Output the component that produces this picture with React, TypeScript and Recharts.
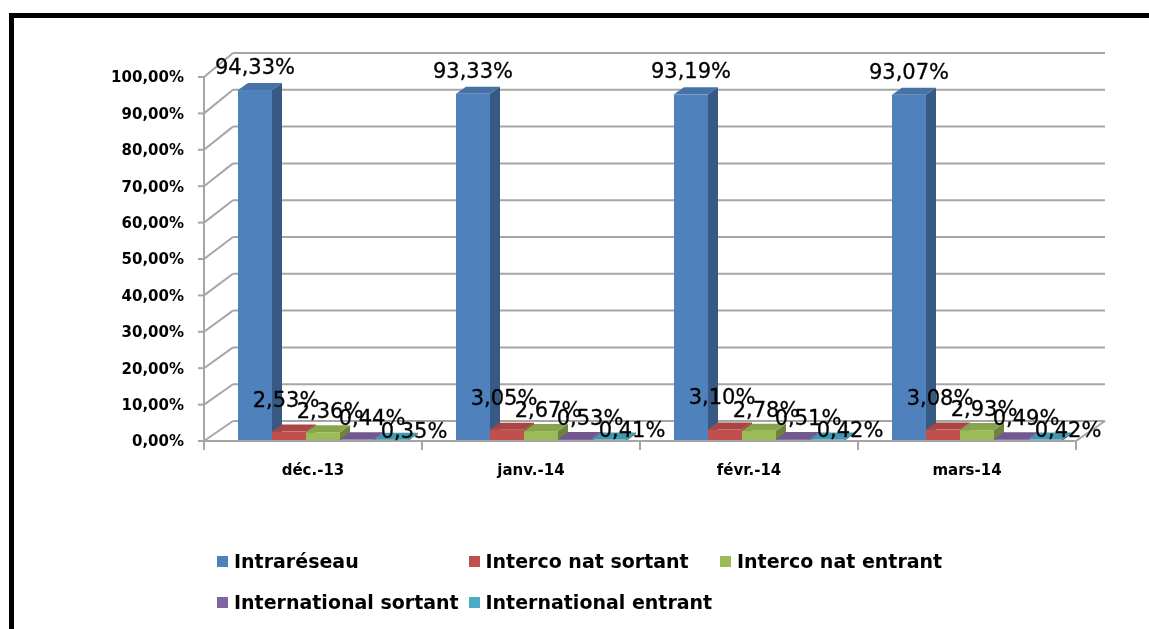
import { BarChart, Bar, XAxis, YAxis, ReferenceLine, LabelList, Legend } from "recharts";

const months = ["déc.-13", "janv.-14", "févr.-14", "mars-14"];
const intrareseau = [94.33, 93.33, 93.19, 93.07];
const intercoNatSortant = [2.53, 3.05, 3.1, 3.08];
const intercoNatEntrant = [2.36, 2.67, 2.78, 2.93];
const internationalSortant = [0.44, 0.53, 0.51, 0.49];
const internationalEntrant = [0.35, 0.41, 0.42, 0.42];
const yTicks = [0, 10, 20, 30, 40, 50, 60, 70, 80, 90, 100];

const data = months.map((m, i) => ({
  month: m,
  intra: intrareseau[i],
  icoSort: intercoNatSortant[i],
  icoEnt: intercoNatEntrant[i],
  intSort: internationalSortant[i],
  intEnt: internationalEntrant[i],
}));

// 3d look: bars sit a bit deeper than the front plane, back wall is shifted up-right
const SHIFT = 10;
const BAR_DX = 10;
const BAR_DY = 7;
const K = 1.022;
const WALL_DX = 29;
const GRID = "#A6A6A6";
const FONT = "DejaVu Sans";

const series = [
  { key: "intra", name: "Intraréseau", color: "#4F81BD", lx: 0, ly: -16 },
  { key: "icoSort", name: "Interco nat sortant", color: "#C0504D", lx: -3, ly: -25 },
  { key: "icoEnt", name: "Interco nat entrant", color: "#9BBB59", lx: 7, ly: -14 },
  { key: "intSort", name: "International sortant", color: "#8064A2", lx: 15, ly: -14 },
  { key: "intEnt", name: "International entrant", color: "#4BACC6", lx: 23, ly: -2 },
];

const shade = (hex: string, f: number) => {
  const n = parseInt(hex.slice(1), 16);
  const c = [(n >> 16) & 255, (n >> 8) & 255, n & 255].map((v) => Math.round(v * f));
  return `rgb(${c[0]},${c[1]},${c[2]})`;
};

const pct = (v: number) => v.toFixed(2).replace(".", ",") + "%";

const makeBar = (color: string) => (p: any) => {
  const { x, y, width, height } = p;
  const bottom = y + height;
  const h = height * K;
  const l = x + SHIFT;
  const r = l + width;
  const t = bottom - h;
  return (
    <g>
      <polygon
        points={`${r},${t} ${r + BAR_DX},${t - BAR_DY} ${r + BAR_DX},${bottom - BAR_DY} ${r},${bottom}`}
        fill={shade(color, 0.7)}
      />
      <polygon
        points={`${l},${t} ${l + BAR_DX},${t - BAR_DY} ${r + BAR_DX},${t - BAR_DY} ${r},${t}`}
        fill={shade(color, 0.88)}
      />
      <rect x={l} y={t} width={width} height={h} fill={color} />
    </g>
  );
};

const makeLabel = (lx: number, ly: number) => (p: any) => {
  const vb = p.viewBox && p.viewBox.width != null ? p.viewBox : p;
  const { x, y, width, height } = vb;
  const bottom = y + height;
  const t = bottom - height * K;
  return (
    <text
      x={x + SHIFT + width / 2 + lx}
      y={t + ly}
      textAnchor="middle"
      fontFamily={FONT}
      fontSize={21}
      fill="#000"
      stroke="#000"
      strokeWidth={0.3}
    >
      {pct(Number(p.value))}
    </text>
  );
};

const wallLine = (v: number) => (p: any) => {
  const { x1, y1, x2 } = p;
  const dy = 20 + (v / 100) * 4;
  return (
    <g>
      <line x1={x1} y1={y1} x2={x1 + WALL_DX} y2={y1 - dy} stroke={GRID} strokeWidth={2} />
      <line x1={x1 + WALL_DX} y1={y1 - dy} x2={x2 + WALL_DX} y2={y1 - dy} stroke={GRID} strokeWidth={2} />
      {v === 0 && <line x1={x2} y1={y1} x2={x2 + WALL_DX} y2={y1 - dy} stroke={GRID} strokeWidth={2} />}
    </g>
  );
};

const MonthTick = (p: any) => {
  const { x, y, payload, index, visibleTicksCount } = p;
  const half = payload.offset ?? 109;
  const axisY = y - 20;
  return (
    <g>
      <line x1={x - half} y1={axisY} x2={x - half} y2={axisY + 9} stroke={GRID} strokeWidth={2} />
      {index === visibleTicksCount - 1 && (
        <line x1={x + half} y1={axisY} x2={x + half} y2={axisY + 9} stroke={GRID} strokeWidth={2} />
      )}
      <text x={x} y={axisY + 34} textAnchor="middle" fontFamily={FONT} fontWeight="bold" fontSize={15} fill="#000">
        {payload.value}
      </text>
    </g>
  );
};

const renderLegend = () => (
  <div style={{ position: "relative", width: 760, height: 70 }}>
    {series.map((s, i) => {
      const col = i < 3 ? i : i - 3;
      const row = i < 3 ? 0 : 1;
      return (
        <div
          key={s.key}
          style={{
            position: "absolute",
            left: col * 251.5,
            top: row * 41,
            display: "flex",
            alignItems: "center",
            whiteSpace: "nowrap",
          }}
        >
          <span style={{ width: 11, height: 11, background: s.color, marginRight: 6, display: "inline-block" }} />
          <span style={{ fontFamily: FONT, fontWeight: "bold", fontSize: 19, color: "#000" }}>{s.name}</span>
        </div>
      );
    })}
  </div>
);

export default function App() {
  return (
    <div style={{ position: "relative", width: 1141, height: 613, background: "#fff" }}>
      <div
        style={{
          position: "fixed",
          left: 9,
          top: 13,
          width: 1400,
          height: 900,
          borderTop: "5px solid #000",
          borderLeft: "5px solid #000",
          pointerEvents: "none",
        }}
      />
      <div style={{ position: "absolute", left: 0, top: 0 }}>
        <BarChart
          width={1141}
          height={613}
          data={data}
          margin={{ top: 69, right: 73, bottom: 140, left: 0 }}
          barCategoryGap={24}
          barGap={0}
        >
          <XAxis
            dataKey="month"
            height={40}
            axisLine={{ stroke: GRID, strokeWidth: 2 }}
            tickLine={false}
            tickSize={0}
            tickMargin={20}
            tick={<MonthTick />}
            interval={0}
          />
          <YAxis
            width={196}
            domain={[0, 100]}
            ticks={yTicks}
            interval={0}
            tickFormatter={pct}
            axisLine={{ stroke: GRID, strokeWidth: 2 }}
            tickLine={{ stroke: GRID, strokeWidth: 2 }}
            tickSize={6}
            tickMargin={14}
            tick={{ fontFamily: FONT, fontWeight: "bold", fontSize: 15, fill: "#000" }}
          />
          {yTicks.map((t) => (
            <ReferenceLine key={t} y={t} zIndex={-100} shape={wallLine(t)} />
          ))}
          {series.map((s) => (
            <Bar
              key={s.key}
              dataKey={s.key}
              name={s.name}
              fill={s.color}
              shape={makeBar(s.color)}
              isAnimationActive={false}
            >
              <LabelList dataKey={s.key} content={makeLabel(s.lx, s.ly)} />
            </Bar>
          ))}
          <Legend
            layout="horizontal"
            verticalAlign="middle"
            align="center"
            wrapperStyle={{ left: 209, top: 542, width: 760, height: 70 }}
            content={renderLegend}
          />
        </BarChart>
      </div>
    </div>
  );
}
